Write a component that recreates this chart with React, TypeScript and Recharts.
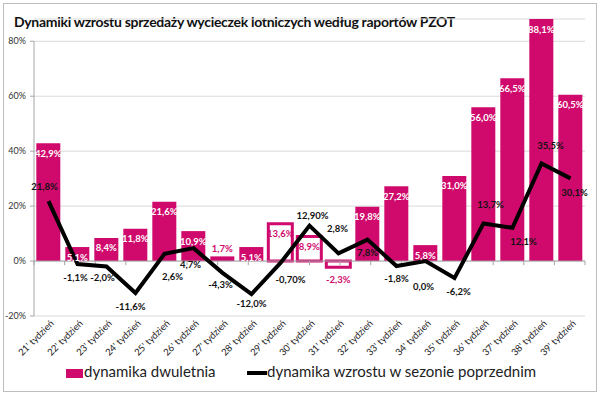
import React from 'react';
import {
  ComposedChart, Bar, Line, XAxis, YAxis, CartesianGrid, Legend, LabelList, Cell, ReferenceLine,
} from 'recharts';

const WEEKS = [
  "21' tydzień", "22' tydzień", "23' tydzień", "24' tydzień", "25' tydzień", "26' tydzień", "27' tydzień",
  "28' tydzień", "29' tydzień", "30' tydzień", "31' tydzień", "32' tydzień", "33' tydzień", "34' tydzień",
  "35' tydzień", "36' tydzień", "37' tydzień", "38' tydzień", "39' tydzień",
];
// dynamika dwuletnia (%)
const DWULETNIA = [42.9, 5.1, 8.4, 11.8, 21.6, 10.9, 1.7, 5.1, 13.6, 8.9, -2.3, 19.8, 27.2, 5.8, 31.0, 56.0, 66.5, 88.1, 60.5];
// dynamika wzrostu w sezonie poprzednim (%)
const POPRZEDNI = [21.8, -1.1, -2.0, -11.6, 2.6, 4.7, -4.3, -12.0, -0.7, 12.9, 2.8, 7.8, -1.8, 0.0, -6.2, 13.7, 12.1, 35.5, 30.1];
const Y_TICKS = [-20, 0, 20, 40, 60, 80];

// styling only
const PINK = '#CF0A6C';
const FONT = 'Lato, "Open Sans", sans-serif';
const OUTLINED = [8, 9, 10];
const TWO_DECIMALS = [8, 9];
const LINE_LABEL_DX = [-4, -2, -4, -5, 8, -3, -2, 0, 10, 3, -1, 0, 0, -2, 4, 7, 11, 9, 4];
const LINE_LABEL_DY = [-15, 13, 11, 14, 23, 16, 12, 9, 17, -10, -25, 13, 13, 25, 13, -19, 14, -18, 14];

const data = WEEKS.map((week, i) => ({ week, dwuletnia: DWULETNIA[i], poprzedni: POPRZEDNI[i] }));

const fmt = (v: number, digits = 1) => `${v.toFixed(digits).replace('.', ',')}%`;

function BarLabel(props: any) {
  const { x, y, width, height, value, index } = props;
  const top = Math.min(y, y + height);
  const bottom = Math.max(y, y + height);
  const h = bottom - top;
  const cx = x + width / 2;
  let ty = top + 10;
  let fill = OUTLINED.includes(index) ? PINK : '#fff';
  if (value < 0) {
    ty = bottom + 12;
    fill = PINK;
  } else if (h < 10) {
    ty = top - 8;
    fill = PINK;
  }
  return (
    <text x={cx} y={ty} textAnchor="middle" dominantBaseline="central" fill={fill}
      style={{ fontSize: 9.5, fontWeight: 700, fontFamily: FONT }}>
      {fmt(value)}
    </text>
  );
}

function LineLabel(props: any) {
  const { x, y, value, index } = props;
  return (
    <text x={x + LINE_LABEL_DX[index]} y={y + LINE_LABEL_DY[index]} textAnchor="middle" dominantBaseline="central"
      fill="#111" style={{ fontSize: 9.5, fontWeight: 700, fontFamily: FONT }}>
      {fmt(value, TWO_DECIMALS.includes(index) ? 2 : 1)}
    </text>
  );
}

function WeekTick(props: any) {
  const { x, y, payload } = props;
  const tx = x + 6;
  const ty = y + 8;
  return (
    <text x={tx} y={ty} transform={`rotate(-45, ${tx}, ${ty})`} textAnchor="end" fill="#222"
      style={{ fontSize: 9.5, fontFamily: FONT }}>
      {payload.value}
    </text>
  );
}

function LegendContent() {
  return (
    <div style={{ position: 'relative', height: 22, fontFamily: FONT, fontSize: 15, color: '#222' }}>
      <div style={{ position: 'absolute', left: 66, top: 7, width: 17, height: 9, background: PINK }} />
      <div style={{ position: 'absolute', left: 84, top: 0, whiteSpace: 'nowrap' }}>dynamika dwuletnia</div>
      <div style={{ position: 'absolute', left: 247, top: 9, width: 20, height: 4, background: '#000' }} />
      <div style={{ position: 'absolute', left: 267, top: 0, whiteSpace: 'nowrap' }}>dynamika wzrostu w sezonie poprzednim</div>
    </div>
  );
}

export default function App() {
  return (
    <div style={{ position: 'fixed', left: 0, top: 0, width: 600, height: 395, background: '#fff' }}>
      <div style={{
        position: 'absolute', left: 3, top: 3, width: 592, height: 387, border: '1px solid #BDBDBD',
      }} />
      <div style={{
        position: 'absolute', left: 14, top: 13, fontFamily: FONT, fontWeight: 700, fontSize: 14,
        letterSpacing: -0.3, color: '#111', whiteSpace: 'nowrap',
      }}>
        Dynamiki wzrostu sprzedaży wycieczek lotniczych według raportów PZOT
      </div>
      <div style={{ position: 'absolute', left: 0, top: 0 }}>
        <ComposedChart width={600} height={395} data={data}
          margin={{ top: 19, right: 15, left: 4, bottom: 29 }} barCategoryGap="8%">
          <CartesianGrid vertical={false} stroke="#D9D9D9" />
          <XAxis dataKey="week" height={50} tick={<WeekTick />} tickLine={false} axisLine={false}
            tickSize={0} tickMargin={0} interval={0} />
          <XAxis xAxisId="frame" type="number" domain={[0, 19]} hide />
          <YAxis width={30} domain={[-20, 'dataMax']} ticks={Y_TICKS} allowDecimals={false}
            tickFormatter={(v) => `${v}%`} axisLine={false} tickLine={{ stroke: '#A6A6A6' }}
            tickSize={4} tickMargin={4} tick={{ fill: '#333', fontSize: 9, fontFamily: FONT }} />
          <ReferenceLine xAxisId="frame" segment={[{ x: 0, y: -20 }, { x: 0, y: 80 }]} stroke="#A6A6A6" />
          <ReferenceLine y={0} stroke="#A6A6A6" />
          {Array.from({ length: 20 }, (_, i) => (
            <ReferenceLine key={i} xAxisId="frame" segment={[{ x: i, y: 0 }, { x: i, y: -1.5 }]} stroke="#A6A6A6" />
          ))}
          <Bar dataKey="dwuletnia" fill={PINK} isAnimationActive={false}>
            {data.map((_, i) => (
              OUTLINED.includes(i)
                ? <Cell key={i} fill="#fff" stroke={PINK} strokeWidth={3} />
                : <Cell key={i} fill={PINK} />
            ))}
            <LabelList dataKey="dwuletnia" content={<BarLabel />} />
          </Bar>
          <Line dataKey="poprzedni" stroke="#000" strokeWidth={4} dot={false} activeDot={false}
            isAnimationActive={false}>
            <LabelList dataKey="poprzedni" content={<LineLabel />} />
          </Line>
          <Legend verticalAlign="middle" layout="horizontal" align="center" content={<LegendContent />}
            wrapperStyle={{ left: 0, top: 362, width: 600 }} />
        </ComposedChart>
      </div>
    </div>
  );
}
